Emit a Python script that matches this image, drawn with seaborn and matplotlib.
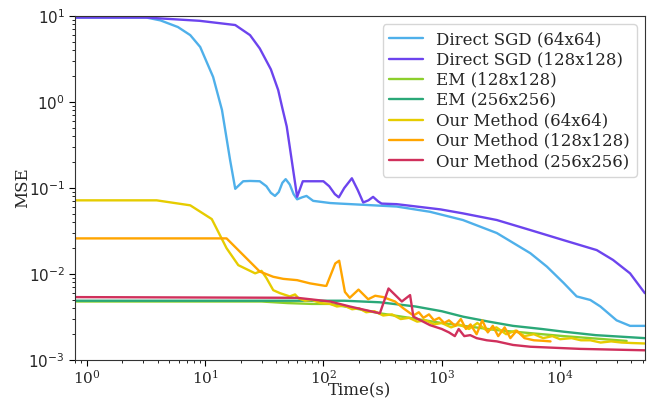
import numpy as np
import pandas as pd
import seaborn as sns
import matplotlib.pyplot as plt

# Direct SGD (64x64)
sgd64_t = [0.8, 2, 3.2, 4.2, 5.9, 7.5, 9.1, 11.7, 13.9, 16.3, 18, 21, 24, 29, 33, 36, 39, 42, 45, 48,
           52, 56, 60, 66, 72, 82, 114, 138, 416, 795, 1510, 2920, 5600, 7740, 10700, 13800, 18000,
           21900, 30000, 39000, 52000]
sgd64_mse = [9.6, 9.6, 9.6, 8.9, 7.45, 6.0, 4.37, 1.96, 0.81, 0.21, 0.098, 0.12, 0.121, 0.12, 0.105,
             0.088, 0.081, 0.09, 0.115, 0.127, 0.11, 0.085, 0.074, 0.078, 0.081, 0.071, 0.067, 0.066,
             0.061, 0.053, 0.0425, 0.030, 0.0175, 0.0122, 0.0079, 0.0055, 0.0050, 0.0042, 0.0029,
             0.0025, 0.0025]

# Direct SGD (128x128)
sgd128_t = [0.8, 3.2, 9, 18, 24, 29, 36, 41.5, 45, 49, 52, 56, 60, 67, 100, 112, 125, 135, 150, 174,
            195, 217, 240, 263, 290, 310, 416, 975, 1510, 2920, 5600, 10700, 20400, 28000, 39000, 52000]
sgd128_mse = [9.6, 9.6, 8.8, 7.86, 6.0, 4.2, 2.4, 1.38, 0.85, 0.52, 0.3, 0.15, 0.079, 0.12, 0.12,
              0.105, 0.085, 0.078, 0.1, 0.13, 0.095, 0.068, 0.072, 0.079, 0.07, 0.066, 0.065, 0.0565,
              0.0508, 0.0425, 0.0325, 0.0248, 0.019, 0.0146, 0.0102, 0.006]

# EM (128x128)
em128_t = [0.8, 30, 50, 80, 114, 167, 300, 576, 1000, 2920, 10700, 20000, 36500]
em128_mse = [0.0048, 0.0048, 0.0046, 0.0045, 0.0045, 0.0041, 0.0035, 0.00305, 0.0027, 0.00223,
             0.0019, 0.00178, 0.00167]

# EM (256x256)
em256_t = [0.8, 150, 300, 600, 1000, 1510, 2500, 4000, 7000, 10700, 20000, 52000]
em256_mse = [0.0049, 0.0049, 0.0047, 0.0042, 0.0037, 0.0032, 0.0028, 0.0025, 0.0023, 0.00214,
             0.00195, 0.0018]

# Our Method (64x64)
our64_t = [0.8, 3.9, 7.5, 11.4, 15.2, 19.1, 26.5, 30, 33, 37.7, 43, 52, 57.6, 62, 70, 80, 95, 114,
           130, 150, 175, 200, 230, 270, 320, 380, 450, 530, 620, 730, 860, 1000, 1200, 1400, 1700,
           2000, 2400, 2900, 3500, 4200, 5000, 6000, 7200, 8600, 10000, 12500, 15000, 18000, 22000,
           27000, 33000, 40000, 52000]
our64_mse = [0.072, 0.072, 0.063, 0.0436, 0.020, 0.0127, 0.0102, 0.0109, 0.0090, 0.0065, 0.0060,
             0.0055, 0.0058, 0.0052, 0.0049, 0.0050, 0.0046, 0.0045, 0.0042, 0.0043, 0.0039, 0.0040,
             0.0036, 0.0037, 0.0033, 0.0034, 0.0030, 0.0031, 0.0028, 0.0029, 0.0026, 0.0027, 0.0024,
             0.0026, 0.0023, 0.0027, 0.0022, 0.0024, 0.0020, 0.0022, 0.0019, 0.0020, 0.0018, 0.0019,
             0.00175, 0.0018, 0.0017, 0.0017, 0.0016, 0.00165, 0.0016, 0.00158, 0.00156]

# Our Method (128x128)
our128_t = [0.8, 15.2, 29, 37.7, 45.8, 60, 77, 103, 106, 126, 136, 152, 167, 198, 239, 274, 320, 403,
            474, 576, 640, 700, 780, 860, 950, 1050, 1150, 1300, 1450, 1600, 1750, 1970, 2200, 2450,
            2700, 3000, 3400, 3800, 4300, 5000, 6000, 7000, 8300]
our128_mse = [0.026, 0.026, 0.0107, 0.0093, 0.0088, 0.0085, 0.0078, 0.0073, 0.0073, 0.0133, 0.0143,
              0.0062, 0.0053, 0.0066, 0.0051, 0.0056, 0.0054, 0.0048, 0.0040, 0.0033, 0.0036, 0.0031,
              0.0034, 0.0029, 0.0031, 0.0027, 0.0029, 0.0025, 0.0030, 0.0023, 0.0026, 0.0020, 0.0029,
              0.0021, 0.0025, 0.0019, 0.0024, 0.0018, 0.0022, 0.0018, 0.0017, 0.00168, 0.00165]

# Our Method (256x256)
our256_t = [0.8, 60, 114, 167, 300, 355, 460, 540, 576, 795, 1000, 1150, 1290, 1390, 1550, 1740, 1970,
            2400, 2920, 4000, 5600, 14800, 52000]
our256_mse = [0.0054, 0.0053, 0.0048, 0.0042, 0.0035, 0.0068, 0.0048, 0.0057, 0.0032, 0.00255,
              0.0023, 0.0021, 0.0019, 0.0023, 0.0019, 0.00195, 0.0018, 0.0017, 0.00165, 0.0015,
              0.00143, 0.00135, 0.0013]

series = [
    ("Direct SGD (64x64)", sgd64_t, sgd64_mse, "#4fb0ea"),
    ("Direct SGD (128x128)", sgd128_t, sgd128_mse, "#6c44ee"),
    ("EM (128x128)", em128_t, em128_mse, "#8ccf2c"),
    ("EM (256x256)", em256_t, em256_mse, "#2aa878"),
    ("Our Method (64x64)", our64_t, our64_mse, "#e6cc00"),
    ("Our Method (128x128)", our128_t, our128_mse, "#ffa500"),
    ("Our Method (256x256)", our256_t, our256_mse, "#d0305c"),
]

sns.set_style("ticks")
plt.rcParams["font.family"] = ["DejaVu Serif"]
plt.rcParams["mathtext.fontset"] = "dejavusans"

fig, ax = plt.subplots(figsize = (6.54, 4.01), dpi = 100)
fig.subplots_adjust(left = 0.115, right = 0.986, top = 0.960, bottom = 0.102)

for label, t, mse, color in series:
    df = pd.DataFrame({"t": t, "mse": mse})
    sns.lineplot(data = df, x = "t", y = "mse", ax = ax, color = color, linewidth = 1.7,
                 label = label, sort = False, estimator = None)

ax.set_xscale("log")
ax.set_yscale("log")
ax.set_xlim(0.8, 52000)
ax.set_ylim(1e-3, 10)
ax.set_xlabel("Time(s)", fontsize = 12, labelpad = -3)
ax.set_ylabel("MSE", fontsize = 12, labelpad = -2)
ax.tick_params(axis = "both", which = "major", labelsize = 11, color = "black", length = 4)
ax.tick_params(axis = "x", which = "major", pad = 2)
ax.tick_params(axis = "both", which = "minor", color = "black", length = 2)
for spine in ax.spines.values():
    spine.set_color("#333333")

ax.legend(loc = "upper right", fontsize = 12, labelspacing = 0.2, borderaxespad = 0.5,
          handlelength = 2.0, framealpha = 0.8)

fig.canvas.draw()
for lbl in ax.get_xticklabels():
    lbl.set_math_fontfamily("dejavuserif")
for lbl in ax.get_yticklabels():
    lbl.set_family("DejaVu Sans")

fig.savefig("out.png", dpi = 100)
